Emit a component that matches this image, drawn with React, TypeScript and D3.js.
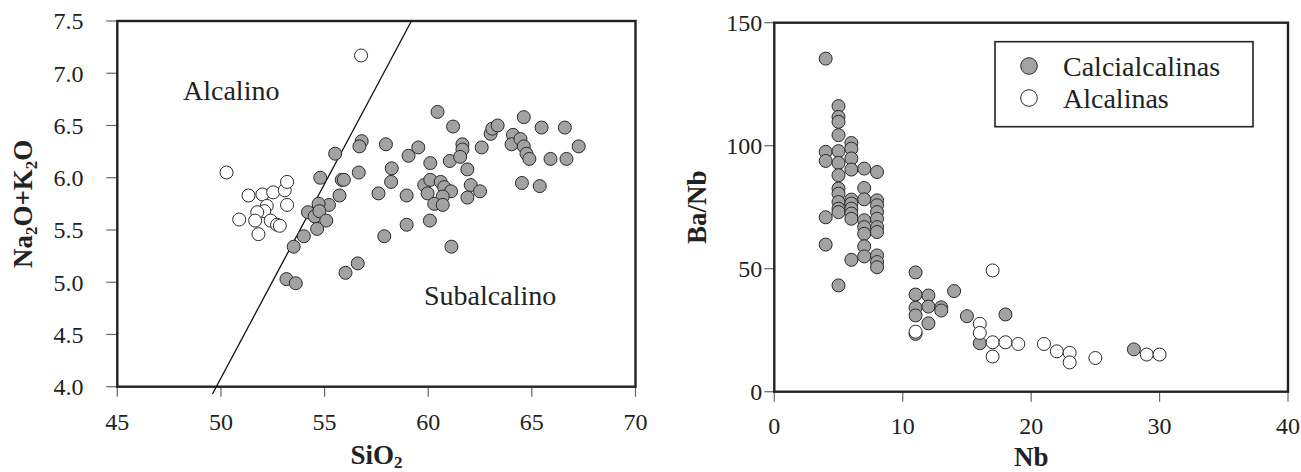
import React from "react";
import * as d3 from "d3";

// ---------- Left plot data (SiO2 vs Na2O+K2O) ----------
const leftCalcSiO2 = [
  56.79, 56.68, 55.51, 57.96, 59.05, 59.52, 60.45, 60.10, 61.2, 61.04,
  61.65, 61.65, 61.54, 61.89, 62.58, 63.01, 63.09, 63.35, 64.61, 65.47,
  66.59, 67.26, 64.09, 64.02, 64.45, 64.61, 64.74, 64.88, 65.9, 66.67,
  64.52, 65.38, 54.79, 55.83, 55.93, 56.65, 58.24, 58.21, 57.6, 58.96,
  55.72, 55.21, 54.71, 54.2, 54.52, 54.75, 55.08, 54.64, 54.0, 53.51,
  53.16, 53.61, 56.01, 56.6, 57.88, 58.96, 60.08, 59.81, 60.1, 60.6,
  60.77, 61.1, 59.97, 60.7, 60.29, 60.7, 62.05, 61.89, 62.5, 61.12,
];
const leftCalcAlk = [
  6.35, 6.30, 6.23, 6.32, 6.21, 6.29, 6.63, 6.14, 6.49, 6.16,
  6.32, 6.27, 6.20, 6.08, 6.29, 6.42, 6.47, 6.50, 6.58, 6.48,
  6.48, 6.30, 6.41, 6.32, 6.37, 6.30, 6.23, 6.18, 6.18, 6.18,
  5.95, 5.92, 6.0, 5.98, 5.98, 6.05, 6.09, 5.96, 5.85, 5.83,
  5.83, 5.74, 5.75, 5.67, 5.63, 5.68, 5.59, 5.51, 5.44, 5.34,
  5.03, 4.99, 5.09, 5.18, 5.44, 5.55, 5.59, 5.93, 5.98, 5.96,
  5.91, 5.87, 5.85, 5.82, 5.75, 5.74, 5.93, 5.81, 5.87, 5.34,
];
const leftAlcSiO2 = [
  50.27, 56.76, 51.33, 52.0, 52.52, 53.08, 53.19, 53.19, 52.21, 52.09,
  51.75, 50.88, 51.65, 52.4, 52.71, 52.84, 51.81,
];
const leftAlcAlk = [
  6.05, 7.17, 5.83, 5.84, 5.86, 5.88, 5.96, 5.74, 5.73, 5.68,
  5.67, 5.60, 5.59, 5.59, 5.55, 5.54, 5.46,
];
// dividing line endpoints
const divSiO2 = [49.59, 59.19];
const divAlk = [3.93, 7.5];
const leftXTicks = [45, 50, 55, 60, 65, 70];
const leftYTicks = [4.0, 4.5, 5.0, 5.5, 6.0, 6.5, 7.0, 7.5];

// ---------- Right plot data (Nb vs Ba/Nb) ----------
const rightCalcNb = [
  4, 4, 4, 4, 4,
  5, 5, 5, 5, 5, 5, 5, 5, 5, 5, 5, 5, 5,
  6, 6, 6, 6, 6, 6, 6, 6, 6, 6,
  7, 7, 7, 7, 7, 7, 7, 7,
  8, 8, 8, 8, 8, 8, 8, 8, 8, 8,
  11, 11, 11, 11, 11,
  12, 12, 12,
  13, 13, 14, 15, 16, 18, 28,
];
const rightCalcBaNb = [
  135.4, 97.5, 93.8, 70.9, 59.8,
  116.1, 111.7, 109.7, 104.3, 97.8, 93.0, 88.0, 82.6, 80.5, 77.1, 74.4, 73.0, 43.2,
  101.1, 98.8, 94.8, 90.3, 78.1, 76.5, 74.4, 72.4, 70.3, 53.6,
  90.7, 82.8, 78.2, 69.7, 66.9, 64.2, 59.1, 55.0,
  89.3, 77.8, 75.8, 73.0, 70.3, 66.9, 64.9, 55.4, 52.7, 50.6,
  48.5, 39.5, 34.1, 31.0, 23.5,
  39.1, 34.6, 27.8,
  34.3, 33.0, 40.9, 30.7, 19.7, 31.4, 17.2,
];
const rightAlcNb = [11, 16, 16, 17, 17, 17, 18, 19, 21, 22, 23, 23, 25, 29, 30];
const rightAlcBaNb = [24.4, 27.6, 23.9, 49.3, 20.1, 14.3, 20.1, 19.4, 19.4, 16.4, 15.8, 11.9, 13.7, 15.1, 15.1];
const rightXTicks = [0, 10, 20, 30, 40];
const rightYTicks = [0, 50, 100, 150];

const legendLabels = ["Calcialcalinas", "Alcalinas"];

const FONT = "'Liberation Serif', 'Times New Roman', serif";
const GRAY = "#a2a2a2";
const STROKE = "#2a2a2a";
const R = 6.5;

export default function App() {
  // left scales
  const xL = d3.scaleLinear().domain([45, 70]).range([117.3, 635.5]);
  const yL = d3.scaleLinear().domain([4.0, 7.5]).range([386.7, 21]);
  // right scales
  const xR = d3.scaleLinear().domain([0, 40]).range([774.3, 1288]);
  const yR = d3.scaleLinear().domain([0, 150]).range([391.7, 22.7]);

  const lineGen = d3.line<number>()
    .x((_, i) => xL(divSiO2[i]))
    .y((_, i) => yL(divAlk[i]));

  const fmt1 = d3.format(".1f");
  const tStyle = { fontFamily: FONT };

  return (
    <svg
      width={1301}
      height={472}
      style={{ position: "absolute", left: 0, top: 0, background: "#fff", fontFamily: FONT }}
    >
      {/* ================= LEFT PLOT ================= */}
      <g>
        {leftYTicks.map((t) => (
          <g key={"ly" + t}>
            <line x1={xL(45) - 11} x2={xL(45)} y1={yL(t)} y2={yL(t)} stroke="#666" strokeWidth={1.2} />
            <text x={83.5} y={yL(t)} dy="0.35em" textAnchor="end" fontSize={24} fill="#222" style={tStyle}>
              {fmt1(t)}
            </text>
          </g>
        ))}
        {leftXTicks.map((t) => (
          <g key={"lx" + t}>
            <line x1={xL(t)} x2={xL(t)} y1={yL(4)} y2={yL(4) + 10} stroke="#666" strokeWidth={1.2} />
            <text x={xL(t)} y={421.5} dy="0.35em" textAnchor="middle" fontSize={24} fill="#222" style={tStyle}>
              {t}
            </text>
          </g>
        ))}
        <rect
          x={xL(45)}
          y={yL(7.5)}
          width={xL(70) - xL(45)}
          height={yL(4) - yL(7.5)}
          fill="none"
          stroke="#222"
          strokeWidth={2.4}
        />
        <path d={lineGen(divSiO2) || ""} stroke="#111" strokeWidth={1.3} fill="none" />
        <text x={183} y={100} fontSize={28} fill="#222" style={tStyle}>Alcalino</text>
        <text x={424} y={305} fontSize={28} fill="#222" style={tStyle}>Subalcalino</text>
        {leftCalcSiO2.map((s, i) => (
          <circle key={"lc" + i} cx={xL(s)} cy={yL(leftCalcAlk[i])} r={R} fill={GRAY} stroke={STROKE} strokeWidth={1} />
        ))}
        {leftAlcSiO2.map((s, i) => (
          <circle key={"la" + i} cx={xL(s)} cy={yL(leftAlcAlk[i])} r={R} fill="#fff" stroke={STROKE} strokeWidth={1} />
        ))}
        <text x={(xL(45) + xL(70)) / 2} y={464} textAnchor="middle" fontSize={27} fontWeight="bold" fill="#222" style={tStyle}>
          SiO<tspan fontSize={17} dy={4}>2</tspan>
        </text>
        <text
          transform={`translate(32, ${(yL(4) + yL(7.5)) / 2}) rotate(-90)`}
          textAnchor="middle"
          fontSize={27}
          fontWeight="bold"
          fill="#222"
          style={tStyle}
        >
          Na<tspan fontSize={17} dy={5}>2</tspan>
          <tspan dy={-5}>O+K</tspan>
          <tspan fontSize={17} dy={5}>2</tspan>
          <tspan dy={-5}>O</tspan>
        </text>
      </g>

      {/* ================= RIGHT PLOT ================= */}
      <g>
        {rightYTicks.map((t) => (
          <g key={"ry" + t}>
            <line x1={xR(0) - 10} x2={xR(0)} y1={yR(t)} y2={yR(t)} stroke="#666" strokeWidth={1.2} />
            <text x={xR(0) - 12} y={yR(t)} dy="0.35em" textAnchor="end" fontSize={24} fill="#222" style={tStyle}>
              {t}
            </text>
          </g>
        ))}
        {rightXTicks.map((t) => (
          <g key={"rx" + t}>
            <line x1={xR(t)} x2={xR(t)} y1={yR(0)} y2={yR(0) + 10} stroke="#666" strokeWidth={1.2} />
            <text x={xR(t)} y={426} dy="0.35em" textAnchor="middle" fontSize={24} fill="#222" style={tStyle}>
              {t}
            </text>
          </g>
        ))}
        <rect
          x={xR(0)}
          y={yR(150)}
          width={xR(40) - xR(0)}
          height={yR(0) - yR(150)}
          fill="none"
          stroke="#222"
          strokeWidth={2.4}
        />
        {rightCalcNb.map((n, i) => (
          <circle key={"rc" + i} cx={xR(n)} cy={yR(rightCalcBaNb[i])} r={R} fill={GRAY} stroke={STROKE} strokeWidth={1} />
        ))}
        {rightAlcNb.map((n, i) => (
          <circle key={"ra" + i} cx={xR(n)} cy={yR(rightAlcBaNb[i])} r={R} fill="#fff" stroke={STROKE} strokeWidth={1} />
        ))}
        <rect x={995} y={41.7} width={258} height={85} fill="#fff" stroke="#222" strokeWidth={1.6} />
        {legendLabels.map((lab, i) => (
          <g key={"lg" + i}>
            <circle cx={1029} cy={66 + i * 32} r={8.3} fill={i === 0 ? GRAY : "#fff"} stroke={STROKE} strokeWidth={1} />
            <text x={1063} y={76 + i * 31.5} fontSize={28} fill="#222" style={tStyle}>{lab}</text>
          </g>
        ))}
        <text x={(xR(0) + xR(40)) / 2} y={466} textAnchor="middle" fontSize={27} fontWeight="bold" fill="#222" style={tStyle}>
          Nb
        </text>
        <text
          transform={`translate(706, ${(yR(0) + yR(150)) / 2}) rotate(-90)`}
          textAnchor="middle"
          fontSize={27}
          fontWeight="bold"
          fill="#222"
          style={tStyle}
        >
          Ba/Nb
        </text>
      </g>
    </svg>
  );
}
